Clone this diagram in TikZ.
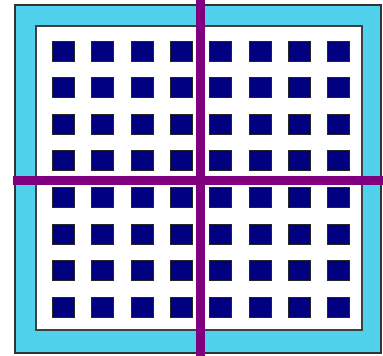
\documentclass[tikz,border=0pt]{standalone}
\begin{document}
\begin{tikzpicture}[x=1pt,y=-1pt,
  frame/.style={draw=black!80,line width=1.6pt,fill=cyanfill},
  inner/.style={draw=black!75,line width=1.6pt,fill=white},
  pad/.style={draw=black!85,line width=1pt,fill=navypad},
  bar/.style={draw=none,fill=purplebar}]
\definecolor{cyanfill}{RGB}{80,210,236}
\definecolor{navypad}{RGB}{0,0,128}
\definecolor{purplebar}{RGB}{128,0,128}
\useasboundingbox (0,0) rectangle (383,356);
\path[frame] (15,5) rectangle (381,353) node[coordinate] (outer) {};
\path[inner] (36,26) rectangle (362,330) node[coordinate] (innerc) {};
\foreach \i in {0,...,7}{
  \foreach \j in {0,...,7}{
    \pgfmathsetmacro{\cx}{63.5+39.3*\i}
    \pgfmathsetmacro{\cy}{51+36.6*\j}
    \path[pad] (\cx-11,\cy-10) rectangle (\cx+11,\cy+10) node[coordinate] (p\i\j) {};
  }
}
\path[bar] (195.5,0) rectangle (204.5,356) node[coordinate] (vbar) {};
\path[bar] (13,175.5) rectangle (383,184.5) node[coordinate] (hbar) {};
\end{tikzpicture}
\end{document}
